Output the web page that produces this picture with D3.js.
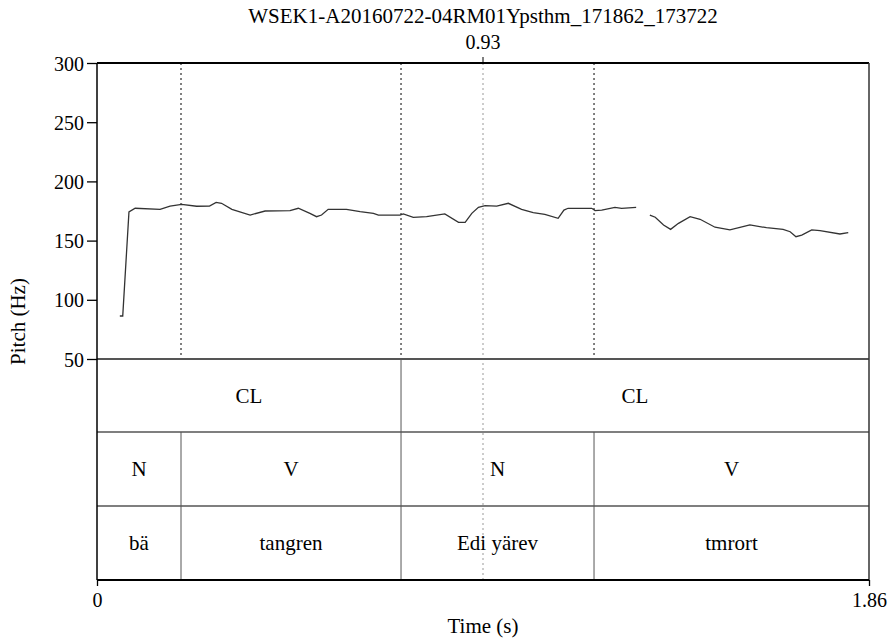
<!DOCTYPE html>
<html>
<head>
<meta charset="utf-8">
<script src="https://cdn.jsdelivr.net/npm/d3@7"></script>
<style>
  html, body { margin: 0; padding: 0; background: #fff; }
  svg { display: block; }
</style>
</head>
<body>
<svg id="chart" width="893" height="638"></svg>
<script>
// Recording title and cursor position
const titleText = "WSEK1-A20160722-04RM01Ypsthm_171862_173722";
const cursorTime = 0.93;
const totalDuration = 1.86;

// Pitch track (time in s, F0 in Hz), split into voiced segments
const pitchSegment1 = [
  [0.055, 86.3], [0.062, 86.3], [0.077, 174.2], [0.092, 177.3], [0.152, 176.4],
  [0.176, 179.2], [0.204, 180.6], [0.240, 179.0], [0.271, 179.2], [0.287, 182.3],
  [0.300, 181.5], [0.325, 176.4], [0.369, 171.6], [0.405, 175.0], [0.465, 175.3],
  [0.485, 177.3], [0.513, 173.0], [0.529, 170.2], [0.541, 171.6], [0.557, 176.4],
  [0.601, 176.4], [0.634, 174.5], [0.666, 173.0], [0.678, 171.6], [0.730, 171.6],
  [0.738, 172.5], [0.762, 169.7], [0.794, 170.2], [0.838, 172.5], [0.871, 165.4],
  [0.887, 165.4], [0.903, 173.0], [0.919, 178.1], [0.935, 179.5], [0.963, 179.2],
  [0.991, 181.5], [1.023, 176.4], [1.051, 173.6], [1.079, 172.2], [1.111, 168.8],
  [1.125, 175.8], [1.135, 177.3], [1.156, 177.3], [1.192, 177.3], [1.200, 175.3],
  [1.216, 175.8], [1.248, 178.1], [1.264, 177.3], [1.299, 178.1]
];
const pitchSegment2 = [
  [1.332, 171.6], [1.345, 169.7], [1.365, 163.2], [1.382, 159.5], [1.401, 164.6],
  [1.429, 170.2], [1.453, 168.0], [1.489, 161.3], [1.525, 159.0], [1.573, 163.2],
  [1.613, 160.9], [1.653, 159.5], [1.670, 157.5], [1.684, 153.3], [1.698, 154.7],
  [1.722, 159.0], [1.742, 158.4], [1.790, 155.6], [1.810, 156.7]
];

// Pitch axis ticks
const pitchTicks = [50, 100, 150, 200, 250, 300];
const timeTickLabels = ["0", "1.86"];

// Annotation tiers: [start, end, label]
const tierClause = [[0, 0.7325, "CL"], [0.7325, 1.86, "CL"]];
const tierPos = [[0, 0.2024, "N"], [0.2024, 0.7325, "V"], [0.7325, 1.1975, "N"], [1.1975, 1.86, "V"]];
const tierWords = [[0, 0.2024, "bä"], [0.2024, 0.7325, "tangren"], [0.7325, 1.1975, "Edi yärev"], [1.1975, 1.86, "tmrort"]];
const tiers = [tierClause, tierPos, tierWords];

// Interval boundaries shown as dotted lines over the pitch panel
const boundaryTimes = [0.2024, 0.7325, 1.1975];

const FONT = "\"Liberation Serif\"";

const svg = d3.select("#chart");
const plotLeft = 97, plotRight = 869, plotTop = 63, pitchBottom = 359;
const tierTops = [359, 432, 506];
const plotBottom = 580;

const x = d3.scaleLinear().domain([0, totalDuration]).range([plotLeft, plotRight]);
const y = d3.scaleLinear().domain([50, 300]).range([pitchBottom, plotTop]);

function label(sel, size) {
  return sel.style("font-family", FONT).style("font-size", (size || 21) + "px").attr("fill", "#000");
}

// Title and cursor value
label(svg.append("text")).attr("x", x(cursorTime)).attr("y", 23)
  .attr("text-anchor", "middle").text(titleText);
label(svg.append("text"), 20).attr("x", x(cursorTime)).attr("y", 49)
  .attr("text-anchor", "middle").text(cursorTime.toFixed(2));
svg.append("line").attr("x1", x(cursorTime)).attr("x2", x(cursorTime))
  .attr("y1", plotTop - 6).attr("y2", plotTop).attr("stroke", "#000").attr("stroke-width", 1);

// Boundary dotted lines in the pitch panel
svg.selectAll(".bound").data(boundaryTimes).join("line")
  .attr("x1", d => x(d)).attr("x2", d => x(d))
  .attr("y1", plotTop).attr("y2", pitchBottom)
  .attr("stroke", "#000").attr("stroke-width", 1).attr("stroke-dasharray", "2,3");

// Cursor line through the whole figure
svg.append("line").attr("x1", x(cursorTime)).attr("x2", x(cursorTime))
  .attr("y1", plotTop).attr("y2", plotBottom)
  .attr("stroke", "#999").attr("stroke-width", 1).attr("stroke-dasharray", "2,3");

// Pitch track
const line = d3.line().x(d => x(d[0])).y(d => y(d[1])).curve(d3.curveLinear);
[pitchSegment1, pitchSegment2].forEach(seg => {
  svg.append("path").datum(seg).attr("d", line)
    .attr("fill", "none").attr("stroke", "#333").attr("stroke-width", 1.3);
});

// Tiers
tiers.forEach((tier, i) => {
  const t0 = tierTops[i];
  const t1 = i < tierTops.length - 1 ? tierTops[i + 1] : plotBottom;
  tier.forEach(([s, e, txt], j) => {
    if (j > 0) {
      svg.append("line").attr("x1", x(s)).attr("x2", x(s)).attr("y1", t0).attr("y2", t1)
        .attr("stroke", "#555").attr("stroke-width", 1);
    }
    label(svg.append("text")).attr("x", (x(s) + x(e)) / 2).attr("y", (t0 + t1) / 2 + 7)
      .attr("text-anchor", "middle").text(txt);
  });
  svg.append("line").attr("x1", plotLeft).attr("x2", plotRight).attr("y1", t0).attr("y2", t0)
    .attr("stroke", "#555").attr("stroke-width", i === 0 ? 1.8 : 1.3);
});

// Frame
svg.append("line").attr("x1", plotLeft).attr("x2", plotRight).attr("y1", plotTop).attr("y2", plotTop)
  .attr("stroke", "#000").attr("stroke-width", 2);
svg.append("line").attr("x1", plotLeft).attr("x2", plotLeft).attr("y1", plotTop).attr("y2", plotBottom)
  .attr("stroke", "#000").attr("stroke-width", 1.5);
svg.append("line").attr("x1", plotRight).attr("x2", plotRight).attr("y1", plotTop).attr("y2", plotBottom)
  .attr("stroke", "#333").attr("stroke-width", 1.5);

// Y axis (pitch)
const yAxis = d3.axisLeft(y).tickValues(pitchTicks).tickSize(10).tickPadding(3).tickFormat(d3.format("d"));
const gy = svg.append("g").attr("transform", `translate(${plotLeft},0)`).call(yAxis);
gy.select(".domain").remove();
label(gy.selectAll("text"), 20).attr("dy", "0.35em");
gy.selectAll("line").attr("stroke-width", 1.3);

// X axis (time)
const xAxis = d3.axisBottom(x).tickValues([0, totalDuration]).tickSize(6).tickPadding(7)
  .tickFormat((d, i) => timeTickLabels[i]);
const gx = svg.append("g").attr("transform", `translate(0,${plotBottom})`).call(xAxis);
gx.select(".domain").attr("d", `M${plotLeft},0H${plotRight}`).attr("stroke-width", 2);
label(gx.selectAll("text"), 20);
gx.selectAll("line").attr("stroke-width", 1.3);

// Axis titles
label(svg.append("text")).attr("x", (plotLeft + plotRight) / 2).attr("y", 633)
  .attr("text-anchor", "middle").text("Time (s)");
label(svg.append("text")).attr("transform", `translate(25,${(plotTop + plotBottom) / 2}) rotate(-90)`)
  .attr("text-anchor", "middle").text("Pitch (Hz)");
</script>
</body>
</html>
